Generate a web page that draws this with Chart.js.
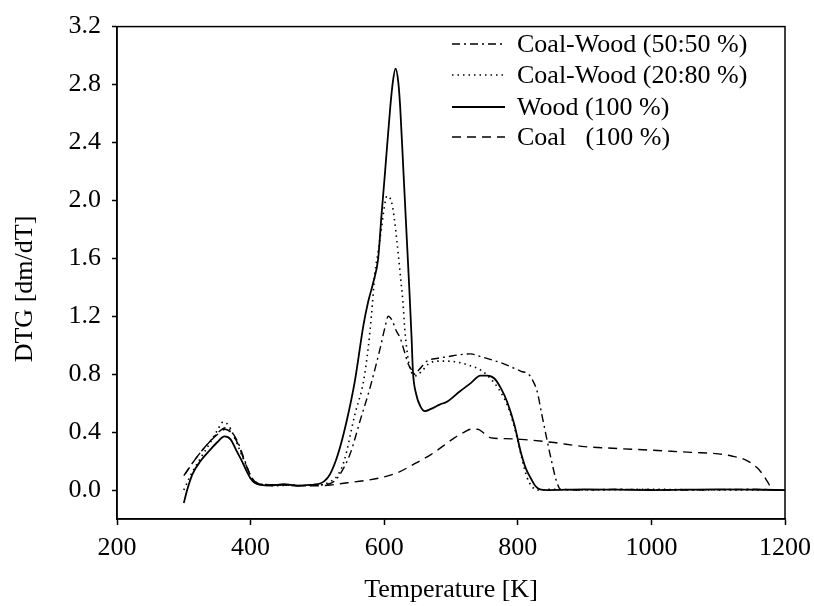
<!DOCTYPE html>
<html>
<head>
<meta charset="utf-8">
<script src="https://cdn.jsdelivr.net/npm/chart.js@4.4.1/dist/chart.umd.min.js"></script>
<style>
  html, body { margin: 0; padding: 0; background: #fff; }
  #wrap { width: 814px; height: 606px; }
</style>
</head>
<body>
<div id="wrap"><canvas id="dtgChart" width="814" height="606"></canvas></div>
<script>
// tick labels
const xTicks = [200, 400, 600, 800, 1000, 1200];
const yTicks = [0, 0.4, 0.8, 1.2, 1.6, 2.0, 2.4, 2.8, 3.2];

// series labels
const seriesNames = ["Coal-Wood (50:50 %)", "Coal-Wood (20:80 %)", "Wood (100 %)", "Coal   (100 %)"];
const yTitle = "DTG [dm/dT]";

// Coal-Wood 50:50 (dash-dot)
const tempMix50 = [302, 312, 325, 340, 352, 363, 372, 381, 390, 398, 405, 415, 440, 470, 500, 515, 525, 534, 549, 564, 579, 594, 601, 606, 612, 618, 624, 630, 636, 641, 646, 652, 664, 680, 694, 714, 729, 745, 760, 774, 790, 805, 816, 822, 829, 836, 844, 851, 858, 864, 880, 950, 1050, 1150, 1200];
const dtgMix50 = [0.11, 0.18, 0.26, 0.34, 0.40, 0.43, 0.40, 0.33, 0.22, 0.12, 0.06, 0.04, 0.035, 0.03, 0.035, 0.04, 0.06, 0.11, 0.25, 0.48, 0.71, 0.98, 1.12, 1.20, 1.17, 1.10, 1.05, 0.96, 0.87, 0.83, 0.80, 0.83, 0.89, 0.91, 0.92, 0.935, 0.94, 0.92, 0.90, 0.88, 0.85, 0.82, 0.80, 0.76, 0.68, 0.52, 0.34, 0.19, 0.06, 0.005, 0.0, 0.005, 0.0, 0.005, 0.0];

// Coal-Wood 20:80 (dotted)
const tempMix20 = [300, 310, 325, 340, 350, 359, 368, 377, 386, 395, 402, 410, 420, 440, 460, 480, 500, 510, 520, 530, 540, 556, 569, 576, 581, 586, 591, 596, 600, 604, 608, 611, 615, 619, 624, 628, 631, 636, 641, 648, 656, 669, 683, 694, 713, 728, 744, 759, 771, 784, 792, 799, 806, 814, 822, 830, 850, 900, 1000, 1100, 1200];
const dtgMix20 = [0.0, 0.1, 0.22, 0.33, 0.41, 0.47, 0.44, 0.35, 0.25, 0.15, 0.08, 0.05, 0.035, 0.03, 0.035, 0.03, 0.035, 0.04, 0.06, 0.1, 0.2, 0.52, 0.75, 0.98, 1.21, 1.49, 1.65, 1.81, 1.95, 2.03, 2.02, 1.99, 1.88, 1.72, 1.49, 1.30, 1.10, 0.90, 0.81, 0.79, 0.82, 0.88, 0.89, 0.89, 0.88, 0.86, 0.83, 0.77, 0.70, 0.59, 0.48, 0.36, 0.22, 0.085, 0.02, 0.0, 0.005, 0.0, 0.005, 0.0, 0.0];

// Wood 100 (solid)
const tempWood = [300, 305, 313, 325, 338, 350, 361, 370, 379, 387, 394, 400, 406, 415, 430, 450, 470, 490, 500, 510, 519, 531, 544, 556, 569, 576, 584, 591, 596, 601, 609, 613, 617, 621, 624, 629, 634, 638, 641, 643, 648, 654, 661, 670, 683, 694, 713, 730, 744, 754, 765, 775, 784, 795, 804, 812, 819, 826, 833, 845, 900, 1000, 1100, 1200];
const dtgWood = [-0.09, 0.0, 0.11, 0.2, 0.27, 0.33, 0.37, 0.35, 0.27, 0.2, 0.13, 0.08, 0.05, 0.035, 0.03, 0.04, 0.03, 0.035, 0.04, 0.06, 0.11, 0.25, 0.48, 0.75, 1.14, 1.30, 1.44, 1.60, 1.90, 2.18, 2.64, 2.82, 2.91, 2.82, 2.64, 2.18, 1.72, 1.35, 1.05, 0.82, 0.66, 0.58, 0.545, 0.56, 0.59, 0.61, 0.68, 0.74, 0.79, 0.79, 0.77, 0.70, 0.61, 0.45, 0.27, 0.15, 0.085, 0.03, 0.005, 0.0, 0.005, 0.0, 0.005, 0.0];

// Coal 100 (dashed)
const tempCoal = [300, 312, 325, 340, 352, 362, 372, 381, 390, 398, 406, 420, 450, 480, 500, 520, 545, 570, 595, 620, 645, 670, 690, 705, 720, 730, 740, 750, 760, 780, 805, 850, 900, 935, 1000, 1060, 1100, 1120, 1140, 1158, 1168, 1176, 1181, 1190, 1200];
const dtgCoal = [0.1, 0.18, 0.26, 0.34, 0.39, 0.42, 0.39, 0.32, 0.21, 0.12, 0.06, 0.04, 0.035, 0.03, 0.03, 0.035, 0.05, 0.065, 0.085, 0.12, 0.18, 0.245, 0.31, 0.36, 0.40, 0.42, 0.42, 0.39, 0.36, 0.355, 0.35, 0.33, 0.30, 0.29, 0.275, 0.26, 0.25, 0.235, 0.21, 0.155, 0.1, 0.04, 0.0, 0.0, 0.0];

const serif = "'Liberation Serif', 'Times New Roman', serif";
const fontSize = 26;

function pairs(xs, ys) {
  return xs.map(function (x, i) { return { x: x, y: ys[i] }; });
}

function makeSet(label, xs, ys, dash, width) {
  return {
    label: label,
    data: pairs(xs, ys),
    borderColor: "#000000",
    borderWidth: width,
    borderDash: dash,
    pointRadius: 0,
    fill: false,
    cubicInterpolationMode: "monotone",
  };
}

// frame, y title and legend (legend sits inside the plot area)
const frameLegend = {
  id: "frameLegend",
  afterDraw: function (chart) {
    const ctx = chart.ctx;
    const a = chart.chartArea;
    ctx.save();
    ctx.strokeStyle = "#000";
    ctx.lineWidth = 1.5;
    ctx.setLineDash([]);
    ctx.strokeRect(a.left, a.top, a.right - a.left, a.bottom - a.top);

    ctx.fillStyle = "#000";
    ctx.font = fontSize + "px " + serif;

    // y axis title, a bit below the middle as in the original
    ctx.save();
    ctx.translate(25, 289);
    ctx.rotate(-Math.PI / 2);
    ctx.textAlign = "center";
    ctx.textBaseline = "middle";
    ctx.fillText(yTitle, 0, 0);
    ctx.restore();

    const x0 = 452, x1 = 505, tx = 517;
    const rowY = [44, 75, 107, 137];
    ctx.textBaseline = "middle";
    chart.data.datasets.forEach(function (ds, i) {
      ctx.beginPath();
      ctx.lineWidth = ds.borderWidth;
      ctx.setLineDash(ds.borderDash);
      ctx.moveTo(x0, rowY[i]);
      ctx.lineTo(x1, rowY[i]);
      ctx.stroke();
      ctx.fillText(ds.label, tx, rowY[i] + 1);
    });
    ctx.restore();
  },
};

const ctx = document.getElementById("dtgChart").getContext("2d");
new Chart(ctx, {
  type: "line",
  data: {
    datasets: [
      makeSet(seriesNames[0], tempMix50, dtgMix50, [8, 4, 2, 4], 1.4),
      makeSet(seriesNames[1], tempMix20, dtgMix20, [1.5, 4], 1.6),
      makeSet(seriesNames[2], tempWood, dtgWood, [], 1.8),
      makeSet(seriesNames[3], tempCoal, dtgCoal, [9, 6], 1.4),
    ],
  },
  options: {
    responsive: false,
    animation: false,
    layout: { padding: { top: 25, right: 29, left: 0, bottom: 0 } },
    plugins: {
      legend: { display: false },
      tooltip: { enabled: false },
    },
    scales: {
      x: {
        type: "linear",
        min: 200,
        max: 1200,
        afterBuildTicks: function (scale) {
          scale.ticks = xTicks.map(function (v) { return { value: v }; });
        },
        afterFit: function (scale) {
          scale.height = 87;
          scale.paddingRight = 0;
          scale.paddingLeft = 0;
        },
        ticks: {
          color: "#000",
          padding: 8,
          maxRotation: 0,
          font: { family: serif, size: fontSize },
          callback: function (v) { return String(v); },
        },
        grid: {
          drawOnChartArea: false,
          drawTicks: true,
          tickLength: 6,
          tickColor: "#000",
          tickWidth: 1.5,
        },
        border: { display: true, color: "#000", width: 1.5 },
        title: {
          display: true,
          text: "Temperature [K]",
          color: "#000",
          padding: { top: 0, bottom: 0 },
          font: { family: serif, size: fontSize },
        },
      },
      y: {
        type: "linear",
        min: -0.2,
        max: 3.2,
        afterBuildTicks: function (scale) {
          scale.ticks = yTicks.map(function (v) { return { value: v }; });
        },
        afterFit: function (scale) { scale.width = 117; },
        ticks: {
          color: "#000",
          padding: 11,
          font: { family: serif, size: fontSize },
          callback: function (v) { return Number(v).toFixed(1); },
        },
        grid: {
          drawOnChartArea: false,
          drawTicks: true,
          tickLength: 5,
          tickColor: "#000",
          tickWidth: 1.5,
        },
        border: { display: true, color: "#000", width: 1.5 },
      },
    },
  },
  plugins: [frameLegend],
});
</script>
</body>
</html>
